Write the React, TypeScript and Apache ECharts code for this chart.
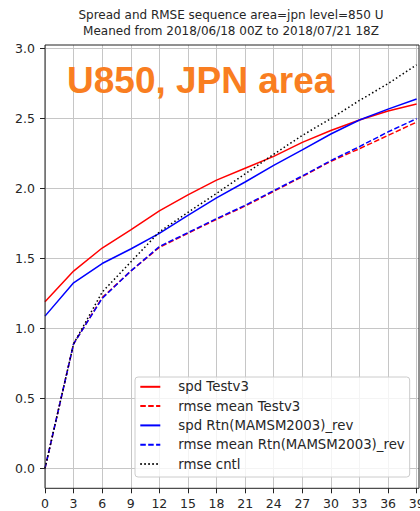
import React, { useEffect, useRef } from "react";
import * as echarts from "echarts";

// forecast time (hours)
const steps = [0, 3, 6, 9, 12, 15, 18, 21, 24, 27, 30, 33, 36, 39];
const spdTestv3 = [1.19, 1.41, 1.575, 1.705, 1.84, 1.955, 2.06, 2.145, 2.23, 2.33, 2.415, 2.49, 2.555, 2.605];
const rmseTestv3 = [0.0, 0.89, 1.22, 1.41, 1.58, 1.68, 1.78, 1.875, 1.98, 2.085, 2.195, 2.285, 2.38, 2.475];
const spdRtn = [1.088, 1.326, 1.464, 1.568, 1.679, 1.809, 1.933, 2.047, 2.166, 2.277, 2.39, 2.49, 2.568, 2.64];
const rmseRtn = [0.0, 0.89, 1.215, 1.41, 1.585, 1.685, 1.785, 1.88, 1.985, 2.09, 2.2, 2.3, 2.405, 2.5];
const rmseCntl = [0.0, 0.89, 1.26, 1.475, 1.69, 1.83, 1.965, 2.105, 2.245, 2.38, 2.5, 2.63, 2.75, 2.885];

const seriesNames = [
  "spd Testv3",
  "rmse mean Testv3",
  "spd Rtn(MAMSM2003)_rev",
  "rmse mean Rtn(MAMSM2003)_rev",
  "rmse cntl",
];
const titleLines = [
  "Spread and RMSE sequence area=jpn level=850 U",
  "Meaned from 2018/06/18 00Z to 2018/07/21 18Z",
];
const overlayLabel = "U850, JPN area";

const FONT = '"DejaVu Sans", sans-serif';
const TEXT = "#262626";
const GRIDC = "#c6c6c6";

export default function App() {
  const ref = useRef<HTMLDivElement>(null);
  useEffect(() => {
    if (!ref.current) return;
    const chart = echarts.init(ref.current, undefined, { renderer: "svg" });
    const pairs = (arr: number[]) => steps.map((t, i) => [t, arr[i]]);
    const mk = (name: string, arr: number[], color: string, type: any) => ({
      name,
      type: "line",
      xAxisIndex: 0,
      yAxisIndex: 0,
      data: pairs(arr),
      showSymbol: false,
      symbol: "none",
      silent: true,
      itemStyle: { color },
      lineStyle: { color, width: 1.5, type },
    });
    chart.setOption({
      animation: false,
      backgroundColor: "#ffffff",
      grid: [
        // data area: y from 0.0 to 3.0
        { left: 45, top: 48.7, width: 374, height: 419.6, show: false, outerBoundsMode: "none", containLabel: false },
        // full plot frame area: for vertical grid lines and x ticks
        { left: 45, top: 45, width: 371.7, height: 443.3, show: false, outerBoundsMode: "none", containLabel: false },
      ],
      xAxis: [
        { gridIndex: 0, type: "value", min: 0, max: 39.25, show: false },
        {
          gridIndex: 1,
          type: "value",
          min: 0,
          max: 39,
          interval: 3,
          axisLine: { show: false },
          axisTick: { show: true, length: 5, lineStyle: { color: "#222" } },
          axisLabel: {
            margin: 8.5,
            fontSize: 12.5,
            fontFamily: FONT,
            color: TEXT,
          },
          splitLine: { show: true, lineStyle: { color: GRIDC, width: 1 } },
        },
      ],
      yAxis: [
        {
          gridIndex: 0,
          type: "value",
          min: 0,
          max: 3,
          interval: 0.5,
          axisLine: { show: false },
          axisTick: { show: true, length: 5, lineStyle: { color: "#222" } },
          axisLabel: {
            margin: 10,
            fontSize: 12.5,
            fontFamily: FONT,
            color: TEXT,
            formatter: (v: number) => v.toFixed(1),
          },
          splitLine: { show: true, lineStyle: { color: GRIDC, width: 1 } },
        },
        { gridIndex: 1, type: "value", min: 0, max: 1, show: false },
      ],
      legend: {
        data: seriesNames,
        orient: "vertical",
        left: 135,
        top: 377,
        padding: [3.3, 5, 6.5, 4.3],
        itemWidth: 20,
        itemHeight: 14,
        itemGap: 6.3,
        backgroundColor: "rgba(255,255,255,0.8)",
        borderColor: "#cccccc",
        borderWidth: 1,
        borderRadius: 3,
        selectedMode: false,
        itemStyle: { opacity: 0 },
        textStyle: { fontFamily: FONT, fontSize: 13.3, color: TEXT, padding: [0, 0, 0, 13] },
      },
      series: [
        mk(seriesNames[0], spdTestv3, "#ff0000", "solid"),
        mk(seriesNames[1], rmseTestv3, "#ff0000", [5.5, 2.4]),
        mk(seriesNames[2], spdRtn, "#0000ff", "solid"),
        mk(seriesNames[3], rmseRtn, "#0000ff", [5.5, 2.4]),
        mk(seriesNames[4], rmseCntl, "#000000", [1.5, 2.5]),
      ],
      graphic: [
        {
          type: "rect",
          z: 5,
          silent: true,
          shape: { x: 45, y: 45, width: 374, height: 443.3 },
          style: { fill: "none", stroke: "#222", lineWidth: 1 },
        },
        {
          type: "text",
          x: 231,
          y: 15,
          style: {
            text: titleLines[0],
            font: `12px ${FONT}`,
            fill: TEXT,
            textAlign: "center",
            textVerticalAlign: "middle",
          },
        },
        {
          type: "text",
          x: 231,
          y: 30.5,
          style: {
            text: titleLines[1],
            font: `12px ${FONT}`,
            fill: TEXT,
            textAlign: "center",
            textVerticalAlign: "middle",
          },
        },
        {
          type: "text",
          x: 67,
          y: 80,
          z: 10,
          style: {
            text: overlayLabel,
            font: 'bold 37px "Liberation Sans", Arial, sans-serif',
            fill: "#f97e21",
            textAlign: "left",
            textVerticalAlign: "middle",
          },
        },
      ],
    });
    return () => chart.dispose();
  }, []);
  return (
    <div
      ref={ref}
      style={{ position: "fixed", left: 0, top: 0, width: 420, height: 511 }}
    />
  );
}
